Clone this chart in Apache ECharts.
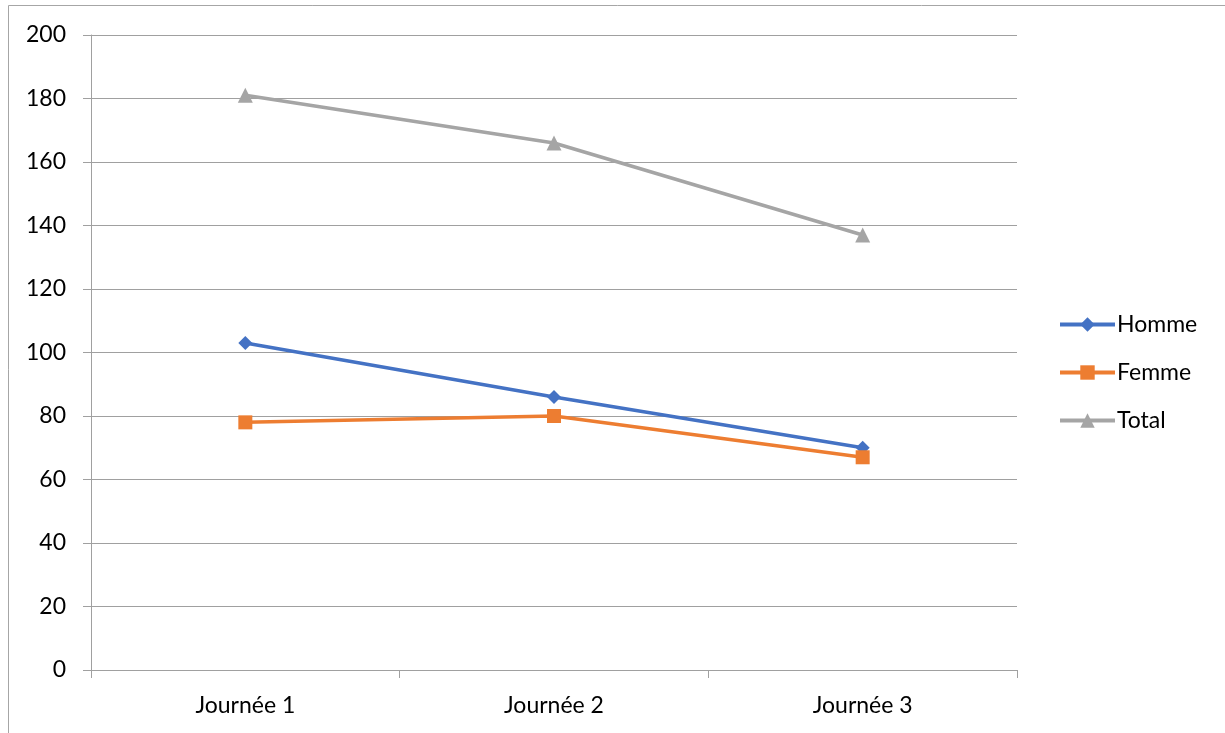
<!DOCTYPE html>
<html><head><meta charset="utf-8">
<script src="https://cdn.jsdelivr.net/npm/echarts@6/dist/echarts.min.js"></script>
<style>html,body{margin:0;padding:0;background:#fff}#c{width:1225px;height:733px}</style>
</head><body><div id="c"></div>
<script>
const categories = ['Journée 1', 'Journée 2', 'Journée 3'];
const homme = [103, 86, 70];
const femme = [78, 80, 67];
const total = [181, 166, 137];
const yTicks = [0, 20, 40, 60, 80, 100, 120, 140, 160, 180, 200];

const chart = echarts.init(document.getElementById('c'));
const font = 'Lato, "Open Sans", sans-serif';
chart.setOption({
  animation: false,
  backgroundColor: '#fff',
  graphic: [{
    type: 'rect', shape: {x: 8.5, y: 5.5, width: 1300, height: 800},
    style: {fill: 'none', stroke: '#a6a6a6', lineWidth: 1}, silent: true
  }],
  grid: {left: 91, right: 208, top: 35, bottom: 63},
  legend: {
    orient: 'vertical', left: 1058, top: 313, padding: 0, itemWidth: 55, itemHeight: 18, itemGap: 25,
    lineStyle: {width: 4},
    textStyle: {fontFamily: font, fontSize: 23, color: '#000', padding: [0, 0, 0, -3]},
    data: ['Homme', 'Femme', 'Total']
  },
  xAxis: {
    type: 'category', data: categories, boundaryGap: true,
    axisLine: {lineStyle: {color: '#a0a0a0', width: 1}},
    axisTick: {show: true, length: 8, lineStyle: {color: '#a0a0a0'}},
    axisLabel: {fontFamily: font, fontSize: 23, color: '#000', margin: 24}
  },
  yAxis: {
    type: 'value', min: yTicks[0], max: yTicks[yTicks.length - 1], interval: 20,
    axisLine: {show: true, lineStyle: {color: '#a0a0a0', width: 1}},
    axisTick: {show: true, length: 8, lineStyle: {color: '#a0a0a0'}},
    splitLine: {lineStyle: {color: '#a0a0a0', width: 1}},
    axisLabel: {fontFamily: font, fontSize: 23, color: '#000', margin: 25}
  },
  series: [
    {name: 'Homme', type: 'line', data: homme, symbol: 'diamond', symbolSize: 14,
     itemStyle: {color: '#4472C4'}, lineStyle: {width: 3.5, color: '#4472C4'}},
    {name: 'Femme', type: 'line', data: femme, symbol: 'rect', symbolSize: 14,
     itemStyle: {color: '#ED7D31'}, lineStyle: {width: 3.5, color: '#ED7D31'}},
    {name: 'Total', type: 'line', data: total, symbol: 'triangle', symbolSize: 15,
     itemStyle: {color: '#A5A5A5'}, lineStyle: {width: 3.5, color: '#A5A5A5'}}
  ]
});
</script></body></html>
